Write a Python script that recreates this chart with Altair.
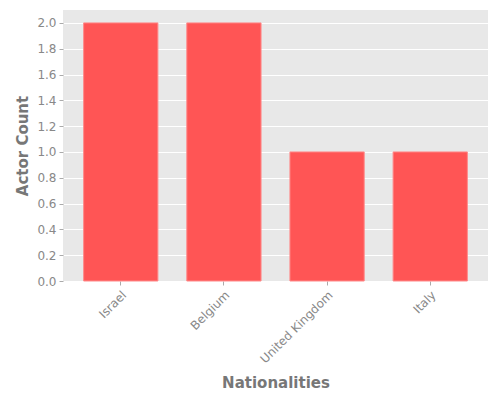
import altair as alt
import pandas as pd

nationalities = ["Israel", "Belgium", "United Kingdom", "Italy"]
counts = [2, 2, 1, 1]

df = pd.DataFrame({"Nationalities": nationalities, "Actor Count": counts})

grey = "#777777"
lgrey = "#888888"
chart = alt.Chart(df).mark_bar(
    color="#ff5555", stroke="#ff8a8a", strokeWidth=1
).encode(
    x=alt.X("Nationalities:N", sort=nationalities,
            scale=alt.Scale(paddingInner=0.28, paddingOuter=0.2),
            axis=alt.Axis(labelAngle=-45, labelAlign="right", labelBaseline="top",
                          labelFontSize=12, labelColor=lgrey, tickColor="#aaaaaa",
                          tickSize=4, domain=False, grid=False,
                          titleFontSize=15, titleFontWeight="bold", titleColor=grey,
                          titleY=101, titleBaseline="middle", titlePadding=0,
                          labelPadding=4)),
    y=alt.Y("Actor Count:Q", scale=alt.Scale(domain=[0, 2.1], nice=False),
            axis=alt.Axis(values=[0, 0.2, 0.4, 0.6, 0.8, 1.0, 1.2, 1.4, 1.6, 1.8, 2.0],
                          format=".1f", labelFontSize=12, labelColor=lgrey,
                          tickColor="#aaaaaa", tickSize=4, domain=False,
                          gridColor="white", gridWidth=1,
                          titleFontSize=15, titleFontWeight="bold", titleColor=grey,
                          titleX=-41, titleBaseline="middle", labelPadding=3)),
).properties(
    width=425, height=271,
    autosize=alt.AutoSizeParams(type="none"),
    padding={"left": 55, "top": 2, "right": 4, "bottom": 111},
).configure_view(
    fill="#e8e8e8", stroke=None
).configure_axis(
    labelFont="DejaVu Sans", titleFont="DejaVu Sans"
)

chart.save("out.html", embed_options={"renderer": "svg", "actions": False})
